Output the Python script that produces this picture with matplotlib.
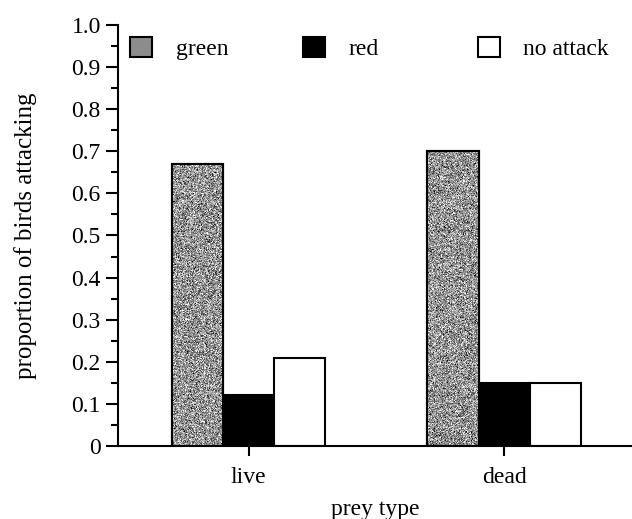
import numpy as np
import matplotlib
matplotlib.use('Agg')
import matplotlib.pyplot as plt
from matplotlib.patches import Patch
from matplotlib.legend import Legend

# datos
prey_types = ['live', 'dead']
series = ['green', 'red', 'no attack']
green = [0.67, 0.70]
red = [0.12, 0.15]
no_attack = [0.21, 0.15]

plt.rcParams['font.family'] = ['Liberation Serif', 'DejaVu Serif']

fig = plt.figure(figsize=(6.32, 5.19), dpi=100)
ax = fig.add_axes([0.187, 0.1407, 0.813, 0.8111])

x = np.arange(len(prey_types))
w = 0.2
values = [green, red, no_attack]
faces = ['#8c8c8c', 'black', 'white']
rng = np.random.default_rng(3)
for i, (vals, fc) in enumerate(zip(values, faces)):
    bars = ax.bar(x + (i - 1) * w, vals, width=w, color=fc, edgecolor='black',
                  linewidth=1.5, zorder=2)
    if i == 0:
        # textura moteada de las barras verdes
        for b in bars:
            tex = rng.normal(0.58, 0.2, (300, 52)).clip(0, 1)
            im = ax.imshow(tex, cmap='gray', vmin=0, vmax=1, aspect='auto',
                           extent=[b.get_x(), b.get_x() + b.get_width(), 0, b.get_height()],
                           zorder=2.5, interpolation='nearest')
            im.set_clip_path(b)
            ax.bar(b.get_x(), b.get_height(), width=b.get_width(), align='edge',
                   facecolor='none', edgecolor='black', linewidth=1.5, zorder=3)

ax.set_xlim(-0.51, 1.5)
ax.set_ylim(0, 1.0)
ax.set_aspect('auto')
ax.set_xticks(x)
ax.set_xticklabels(prey_types)
ax.set_yticks(np.arange(0, 1.01, 0.1))
ax.set_yticklabels(['0'] + [f'{v:.1f}' for v in np.arange(0.1, 1.01, 0.1)])
ax.set_yticks(np.arange(0.05, 1.0, 0.1), minor=True)
ax.tick_params(axis='both', direction='out', width=1.5, labelsize=17)
ax.tick_params(axis='y', which='major', length=9)
ax.tick_params(axis='y', which='minor', length=5, width=1.5)
ax.tick_params(axis='x', length=7, pad=8)
for s in ['top', 'right']:
    ax.spines[s].set_visible(False)
for s in ['left', 'bottom']:
    ax.spines[s].set_linewidth(1.5)

ax.set_ylabel('proportion of birds attacking', fontsize=18, labelpad=25)
ax.set_xlabel('prey type', fontsize=17, labelpad=8)

# leyenda: una entrada por columna, en posiciones fijas
leg_x = [0.0233, 0.36, 0.70]
for lx, name, fc in zip(leg_x, series, faces):
    h = Patch(facecolor=fc, edgecolor='black', linewidth=1.5)
    lg = Legend(ax, [h], [name], loc='center left', bbox_to_anchor=(lx, 0.945),
                frameon=False, fontsize=17, handlelength=0.93, handleheight=0.93,
                handletextpad=1.0, borderaxespad=0.0, borderpad=0.0)
    ax.add_artist(lg)

plt.savefig('out.png', dpi=100)
